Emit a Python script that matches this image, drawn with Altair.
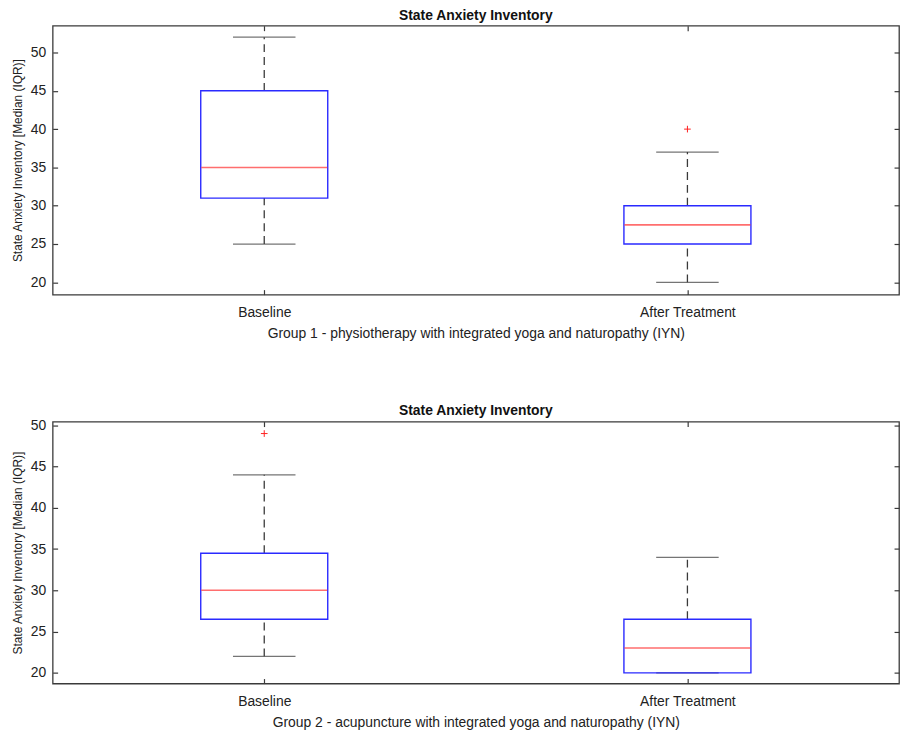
import altair as alt
import pandas as pd

categories = ["Baseline", "After Treatment"]

# Group 1
g1_min = [25, 20]
g1_q1 = [31, 25]
g1_med = [35, 27.5]
g1_q3 = [45, 30]
g1_max = [52, 37]
g1_out_cat = ["After Treatment"]
g1_out_val = [40]

# Group 2
g2_min = [22, 20]
g2_q1 = [26.5, 20]
g2_med = [30, 23]
g2_q3 = [34.5, 26.5]
g2_max = [44, 34]
g2_out_cat = ["Baseline"]
g2_out_val = [49]

titles = ["State Anxiety Inventory", "State Anxiety Inventory"]
xtitles = [
    "Group 1 - physiotherapy with integrated yoga and naturopathy (IYN)",
    "Group 2 - acupuncture with integrated yoga and naturopathy (IYN)",
]
ytitle = "State Anxiety Inventory [Median (IQR)]"
y_ticks = [20, 25, 30, 35, 40, 45, 50]

FONT = "Liberation Sans"
AX = "#3a3a3a"


def panel(mins, q1s, meds, q3s, maxs, out_cat, out_val, title, xtitle, ydom, h,
          title_offset, label_pad, title_pad):
    df = pd.DataFrame({"cat": categories, "mn": mins, "q1": q1s, "med": meds,
                       "q3": q3s, "mx": maxs})
    odf = pd.DataFrame({"cat": out_cat, "v": out_val})
    ys = alt.Scale(domain=ydom, nice=False, zero=False)
    xs = alt.Scale(type="point", domain=categories, padding=0.5)

    def X(axis=None, t=None):
        return alt.X("cat:N", scale=xs, axis=axis, title=t)

    x_bottom = alt.Axis(orient="bottom", tickSize=5, offset=-5, domain=False,
                        tickColor=AX, tickWidth=1.2, labelPadding=label_pad,
                        labelFontSize=14, labelColor="#222", labelAngle=0,
                        labelFont=FONT, titleFont=FONT, titleFontSize=14,
                        titleFontWeight="normal", titleColor="#222",
                        titlePadding=title_pad, minExtent=0)
    x_top = alt.Axis(orient="top", tickSize=5, offset=-5, domain=False,
                     tickColor=AX, tickWidth=1.2, labels=False, title=None,
                     minExtent=0, maxExtent=0)
    y_left = alt.Axis(orient="left", tickSize=5, offset=-5, domain=False,
                      values=y_ticks, tickColor=AX, tickWidth=1.2,
                      labelPadding=7, labelFontSize=14, labelColor="#222",
                      labelFont=FONT, titleFont=FONT, titleFontSize=12,
                      titleFontWeight="normal", titleColor="#222",
                      titlePadding=6, grid=False)
    y_right = alt.Axis(orient="right", tickSize=5, offset=-5, domain=False,
                       values=y_ticks, tickColor=AX, tickWidth=1.2,
                       labels=False, title=None, grid=False,
                       minExtent=0, maxExtent=0)

    base = alt.Chart(df)
    dash = [8, 5]
    w_up = base.mark_rule(color=AX, strokeWidth=1.3, strokeDash=dash).encode(
        x=X(x_bottom, xtitle),
        y=alt.Y("q3:Q", scale=ys, axis=y_left, title=ytitle),
        y2="mx:Q",
    )
    w_lo = base.mark_rule(color=AX, strokeWidth=1.3, strokeDash=dash).encode(
        x=X(x_top),
        y=alt.Y("mn:Q", scale=ys, axis=y_right),
        y2="q1:Q",
    )
    cap_hi = base.mark_tick(color=AX, size=63, thickness=1.3, orient="horizontal").encode(
        x=X(), y=alt.Y("mx:Q", scale=ys, axis=None))
    cap_lo = base.mark_tick(color=AX, size=63, thickness=1.3, orient="horizontal").encode(
        x=X(), y=alt.Y("mn:Q", scale=ys, axis=None))
    box = base.mark_bar(size=128, fill="white", fillOpacity=0, stroke="#2a2aff",
                        strokeWidth=1.4).encode(
        x=X(), y=alt.Y("q1:Q", scale=ys, axis=None), y2="q3:Q")
    med = base.mark_tick(color="#ff3030", size=127, thickness=1.6,
                         orient="horizontal").encode(
        x=X(), y=alt.Y("med:Q", scale=ys, axis=None))
    outl = alt.Chart(odf).mark_point(
        shape="M-1,0L1,0M0,-1L0,1", size=45, stroke="#ff2020", strokeWidth=1,
        filled=False, opacity=1).encode(
        x=X(), y=alt.Y("v:Q", scale=ys, axis=None))

    return alt.layer(w_up, w_lo, cap_hi, cap_lo, box, med, outl).resolve_scale(
        x="independent", y="independent"
    ).properties(
        width=853, height=h,
        title=alt.TitleParams(title, fontSize=14, fontWeight="bold", font=FONT,
                              color="#111", offset=title_offset, anchor="middle"),
    )


p1 = panel(g1_min, g1_q1, g1_med, g1_q3, g1_max, g1_out_cat, g1_out_val,
           titles[0], xtitles[0], [18.4, 53.5], 271, 2, 11, 7)
p2 = panel(g2_min, g2_q1, g2_med, g2_q3, g2_max, g2_out_cat, g2_out_val,
           titles[1], xtitles[1], [18.7, 50.45], 264, 0, 11, 7)

chart = alt.vconcat(p1, p2, spacing=63).properties(
    padding={"left": 2, "top": -3, "right": 0, "bottom": 0},
    background="white",
).configure_view(stroke=AX, strokeWidth=1.3)

chart.save("out.html", embed_options={"renderer": "svg", "actions": False})
